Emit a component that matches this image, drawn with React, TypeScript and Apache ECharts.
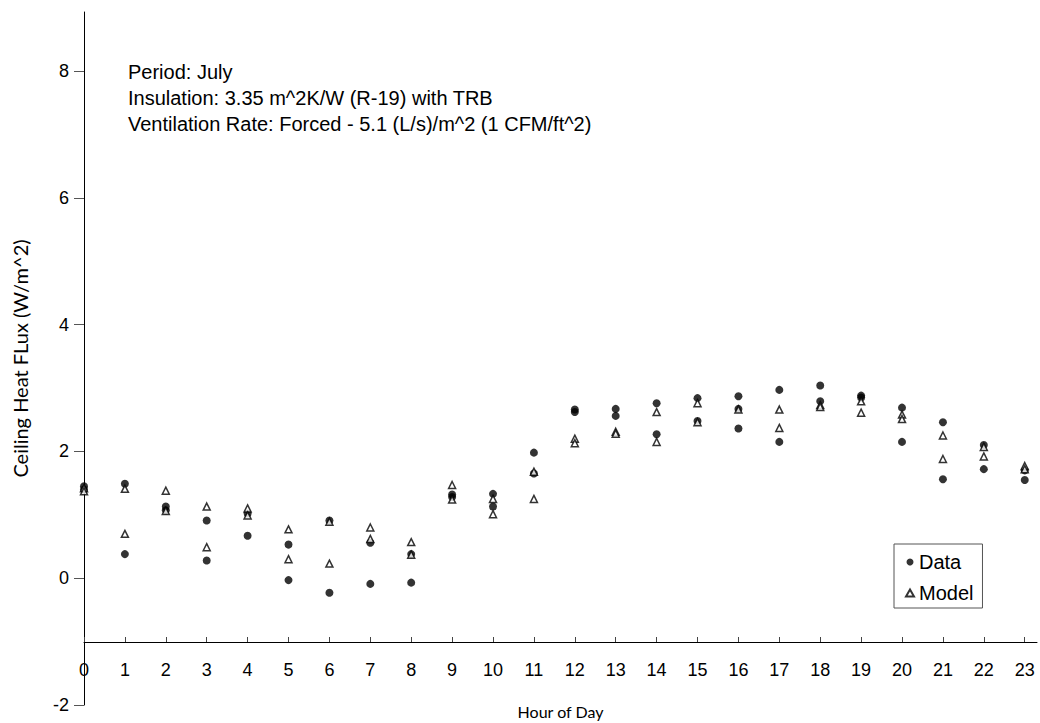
import React, { useEffect, useRef } from "react";
import * as echarts from "echarts";

const hours = [0, 1, 2, 3, 4, 5, 6, 7, 8, 9, 10, 11, 12, 13, 14, 15, 16, 17, 18, 19, 20, 21, 22, 23];
const yTicks = [-2, 0, 2, 4, 6, 8];

// Measured values (hour, W/m^2)
const dataPoints: [number, number][] = [
  [0, 1.45], [0, 1.40],
  [1, 1.49], [1, 0.38],
  [2, 1.13], [2, 1.07],
  [3, 0.91], [3, 0.28],
  [4, 1.02], [4, 0.67],
  [5, 0.53], [5, -0.03],
  [6, 0.91], [6, -0.23],
  [7, 0.56], [7, -0.09],
  [8, 0.38], [8, -0.07],
  [9, 1.32], [9, 1.28],
  [10, 1.33], [10, 1.13],
  [11, 1.98], [11, 1.65],
  [12, 2.66], [12, 2.62],
  [13, 2.67], [13, 2.56],
  [14, 2.76], [14, 2.27],
  [15, 2.84], [15, 2.48],
  [16, 2.87], [16, 2.67], [16, 2.36],
  [17, 2.97], [17, 2.15],
  [18, 3.04], [18, 2.79],
  [19, 2.88], [19, 2.85],
  [20, 2.69], [20, 2.15],
  [21, 2.46], [21, 1.56],
  [22, 2.10], [22, 1.72],
  [23, 1.70], [23, 1.55],
];

// Model values (hour, W/m^2)
const modelPoints: [number, number][] = [
  [0, 1.42], [0, 1.37],
  [1, 1.41], [1, 0.70],
  [2, 1.38], [2, 1.06],
  [3, 1.13], [3, 0.49],
  [4, 1.10], [4, 0.99],
  [5, 0.77], [5, 0.30],
  [6, 0.89], [6, 0.23],
  [7, 0.80], [7, 0.62],
  [8, 0.57], [8, 0.37],
  [9, 1.47], [9, 1.24],
  [10, 1.25], [10, 1.01],
  [11, 1.68], [11, 1.25],
  [12, 2.20], [12, 2.13],
  [13, 2.31], [13, 2.28],
  [14, 2.62], [14, 2.15],
  [15, 2.76], [15, 2.46],
  [16, 2.66],
  [17, 2.66], [17, 2.37],
  [18, 2.73], [18, 2.70],
  [19, 2.79], [19, 2.61],
  [20, 2.58], [20, 2.51],
  [21, 2.25], [21, 1.88],
  [22, 2.07], [22, 1.92],
  [23, 1.77], [23, 1.72],
];

const notes = [
  "Period: July",
  "Insulation: 3.35 m^2K/W (R-19) with TRB",
  "Ventilation Rate: Forced - 5.1 (L/s)/m^2 (1 CFM/ft^2)",
];

export default function App() {
  const ref = useRef<HTMLDivElement>(null);
  useEffect(() => {
    if (!ref.current) return;
    const chart = echarts.init(ref.current, null, { renderer: "svg" });
    const tickFont = { fontFamily: "Liberation Sans, Arial, sans-serif", fontSize: 18, color: "#000" };
    chart.setOption({
      animation: false,
      backgroundColor: "#fff",
      grid: { left: 84, right: 3, top: 12, bottom: 18, containLabel: false, outerBoundsMode: "none" },
      xAxis: {
        type: "value",
        min: 0,
        max: 23.3,
        interval: 1,
        offset: -63,
        name: "Hour of Day",
        nameLocation: "middle",
        nameGap: 61,
        nameTextStyle: { fontFamily: "Lato, sans-serif", fontSize: 16, color: "#000" },
        axisLine: { onZero: false, lineStyle: { color: "#000", width: 1 } },
        axisTick: { show: true, inside: true, length: 5, customValues: hours, lineStyle: { color: "#444" } },
        axisLabel: { ...tickFont, margin: 19, customValues: hours },
        splitLine: { show: false },
      },
      yAxis: {
        type: "value",
        min: -2,
        max: 8.93,
        interval: 2,
        name: "Ceiling Heat FLux (W/m^2)",
        nameLocation: "middle",
        nameGap: 54,
        nameTextStyle: { fontFamily: "Lato, sans-serif", fontSize: 20, color: "#000" },
        axisLine: { show: true, onZero: false, lineStyle: { color: "#000", width: 1 } },
        axisTick: { show: true, inside: false, length: 10, customValues: yTicks, lineStyle: { color: "#555" } },
        axisLabel: { ...tickFont, margin: 15, customValues: yTicks },
        splitLine: { show: false },
      },
      legend: {
        orient: "vertical",
        left: 894,
        top: 544,
        padding: [8, 9, 5, 11],
        itemGap: 11,
        itemWidth: 8,
        itemHeight: 7,
        borderColor: "#555",
        borderWidth: 1,
        textStyle: { fontFamily: "Liberation Sans, Arial, sans-serif", fontSize: 20, color: "#000" },
        data: [
          { name: "Data", icon: "circle" },
          { name: "Model", icon: "triangle" },
        ],
      },
      graphic: notes.map((t, i) => ({
        type: "text",
        left: 128,
        top: 62 + i * 26,
        style: { text: t, font: "20px 'Liberation Sans', Arial, sans-serif", fill: "#000" },
      })),
      series: [
        {
          name: "Data",
          type: "scatter",
          data: dataPoints,
          symbol: "circle",
          symbolSize: 8,
          itemStyle: { color: "#000" },
        },
        {
          name: "Model",
          type: "scatter",
          data: modelPoints,
          symbol: "triangle",
          symbolSize: 7,
          itemStyle: { color: "#fff", borderColor: "#000", borderWidth: 1.5 },
        },
      ],
    });
    return () => chart.dispose();
  }, []);
  return <div ref={ref} style={{ position: "fixed", left: 0, top: 0, width: 1040, height: 723 }} />;
}
